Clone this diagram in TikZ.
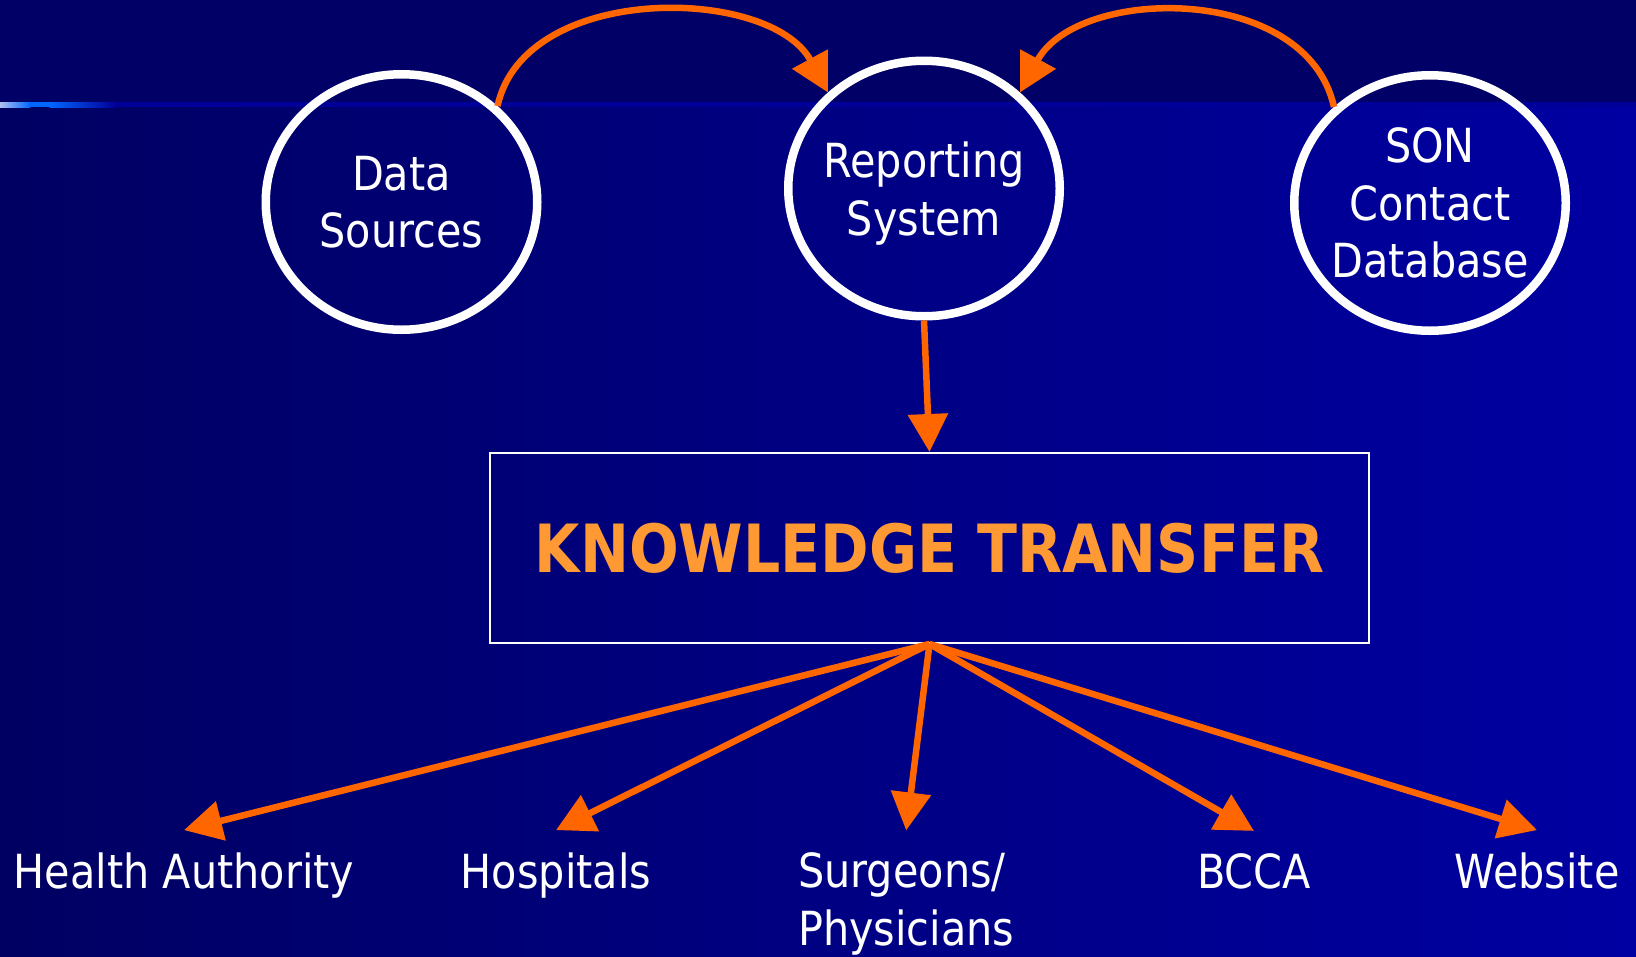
\documentclass[tikz,border=0pt]{standalone}
\usepackage{fontspec}
\setmainfont{DejaVu Sans}[FakeStretch=0.88]
\usetikzlibrary{arrows.meta,shapes.geometric}

\definecolor{navytop}{RGB}{0,0,102}
\definecolor{navyleft}{RGB}{0,0,98}
\definecolor{navyright}{RGB}{0,0,162}
\definecolor{rulenavy}{RGB}{0,0,153}
\definecolor{ruleblue}{RGB}{0,102,255}
\definecolor{rulepale}{RGB}{176,192,240}
\definecolor{flow}{RGB}{255,102,0}
\definecolor{ktorange}{RGB}{255,153,51}

\begin{document}
\begin{tikzpicture}[x=1pt, y=-1pt,
  stage/.style={ellipse, draw=white, line width=8.5pt, minimum width=271.5pt,
    minimum height=255.5pt, inner xsep=-30pt, inner ysep=0pt, align=center,
    text=white, text depth=0pt, font=\fontsize{47}{57.5}\selectfont},
  target/.style={text=white, inner xsep=0pt, inner ysep=22pt,
    font=\fontsize{47}{57.5}\selectfont},
  flowarrow/.style={draw=flow, line width=6.5pt,
    -{Triangle[length=38pt, width=39pt]}}]
  \useasboundingbox (0,0) rectangle (1636,956);
  % background and title rule
  \fill[navytop] (0,0) rectangle (1636,107);
  \shade[left color=navyleft, right color=navyright] (0,107) rectangle (1636,956);
  \fill[rulenavy] (0,102) rectangle (1636,107);
  \shade[left color=rulepale, right color=ruleblue] (0,102) rectangle (30,107);
  \fill[ruleblue] (30,102) rectangle (50,107);
  \shade[left color=ruleblue, right color=rulenavy] (50,102) rectangle (115,107);

  \node[stage] (data) at (401.5,202) {Data\\Sources};
  \node[stage] (report) at (924,188.5) {Reporting\\System};
  \node[stage] (son) at (1430,203) {SON\\Contact\\Database};
  \node[draw=white, line width=2pt, minimum width=879pt, minimum height=190pt,
    text=ktorange, font=\bfseries\fontsize{66.5}{80}\selectfont]
    (kt) at (929.5,548) {KNOWLEDGE TRANSFER};

  \node[target, anchor=base] (health) at (184,888) {Health Authority};
  \node[target, anchor=base] (hosp) at (556,888) {Hospitals};
  \node[target, anchor=base west, align=left] (surg) at (798,945) {Surgeons/\\Physicians};
  \node[target, anchor=base] (bcca) at (1254,888) {BCCA};
  \node[target, anchor=base] (web) at (1537,888) {Website};

  \draw[flowarrow] (data.45) .. controls +(27,-124) and +(-58,-107) .. (report.135);
  \draw[flowarrow] (son.135) .. controls +(-27,-124) and +(58,-107) .. (report.45);
  \draw[flowarrow] (report.south) -- (kt.north);
  \foreach \t in {health, hosp, surg, bcca, web}
    \draw[flowarrow] (kt.south) -- (\t.north);
\end{tikzpicture}
\end{document}
